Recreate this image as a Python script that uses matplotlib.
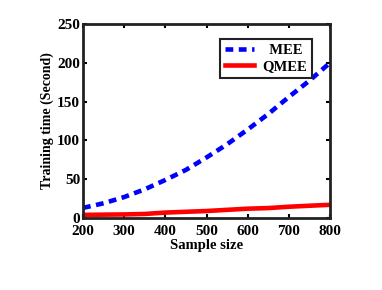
import numpy as np
import matplotlib
matplotlib.use('Agg')
import matplotlib.pyplot as plt

plt.rcParams['font.family'] = ['Liberation Serif', 'DejaVu Serif']
plt.rcParams['font.weight'] = 'bold'

sample_size = [200, 250, 300, 350, 400, 450, 500, 550, 600, 650, 700, 750, 800]
mee_time = [13, 19, 27, 37, 49, 62, 78, 95, 114, 134, 156, 177, 200]
qmee_time = [4, 4.3, 4.6, 5.2, 7, 8, 9, 10.5, 12, 12.8, 14.5, 15.8, 17]

fig = plt.figure(figsize=(3.82, 2.90), dpi=100)
ax = fig.add_axes([83 / 382, 1 - 218 / 290, (330 - 83) / 382, (218 - 24) / 290])

ax.plot(sample_size, mee_time, color='#0000ff', linestyle=(0, (1.7, 1.2)),
        linewidth=3.3, label='MEE')
ax.plot(sample_size, qmee_time, color='#ff0000', linewidth=3.3, label='QMEE')

ax.set_xlim(200, 800)
ax.set_ylim(0, 250)
ax.set_xticks(range(200, 801, 100))
ax.set_yticks(range(0, 251, 50))
ax.tick_params(direction='in', top=True, right=True, length=3, width=1.5,
               labelsize=11, pad=2)
ax.tick_params(axis='x', pad=5)
for sp in ax.spines.values():
    sp.set_linewidth(2)
    sp.set_color('#222222')

ax.set_xlabel('Sample size', fontsize=10.5, fontweight='bold', labelpad=1)
ax.set_ylabel('Training time (Second)', fontsize=10, fontweight='bold', labelpad=2)

leg = ax.legend(loc='upper right', fontsize=10.5, fancybox=False, framealpha=1,
                edgecolor='#222222', handlelength=2.0, borderpad=0.3,
                labelspacing=0.25, handletextpad=0.6,
                bbox_to_anchor=(0.955, 0.96))
leg.get_frame().set_linewidth(1.5)
# MEE label centred over QMEE as in the original
txts = leg.get_texts()
txts[0].set_text('  MEE')

fig.savefig('out.png', dpi=100)
